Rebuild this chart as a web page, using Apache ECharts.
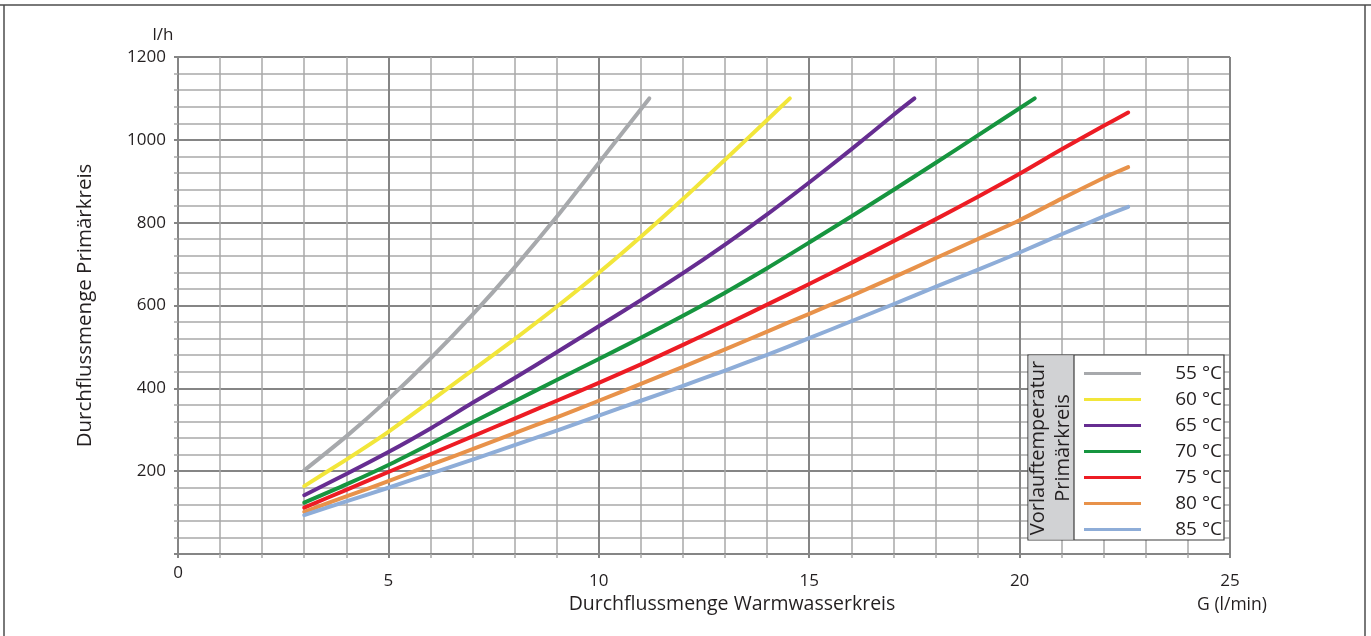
<!DOCTYPE html>
<html>
<head>
<meta charset="utf-8">
<script src="https://cdn.jsdelivr.net/npm/echarts@6/dist/echarts.min.js"></script>
<style>
  html, body { margin: 0; padding: 0; background: #ffffff; }
  #chart { width: 1371px; height: 636px; }
</style>
</head>
<body>
<div id="chart"></div>
<script>
// Primary-circuit flow (l/h) over hot-water flow G (l/min), one curve per supply temperature
const seriesNames = ['55 °C', '60 °C', '65 °C', '70 °C', '75 °C', '80 °C', '85 °C'];
const seriesColors = ['#a7a9ac', '#f2e63a', '#662d91', '#16953f', '#ed1c24', '#e8924a', '#8eadd8'];

const t55 = [[3,202],[4,284],[5,374],[6,472],[7,578],[8,692],[9,814],[10,944],[11.2,1100]];
const t60 = [[3,164],[4,228],[5,295],[6,369],[7,444],[8,519],[9,597],[10,679],[11,766],[12,857],[13,952],[14,1048],[14.54,1100]];
const t65 = [[3,142],[4,193],[5,246],[6,303],[7,365],[8,425],[9,487],[10,550],[11,613],[12,678],[13,747],[14,820],[15,897],[16,977],[17,1060],[17.5,1100]];
const t70 = [[3,124],[4,168],[5,215],[6,266],[7,318],[8,369],[9,420],[10,471],[11,522],[12,575],[13,631],[14,690],[15,752],[16,815],[17,879],[18,944],[19,1010],[20.36,1100]];
const t75 = [[3,112],[4,155],[5,198],[6,241],[7,284],[8,327],[9,370],[10,413],[11,458],[12,505],[13,553],[14,602],[15,652],[16,703],[17,755],[18,808],[19,862],[20,918],[21,977],[22,1034],[22.58,1066]];
const t80 = [[3,102],[4,139],[5,176],[6,215],[7,253],[8,292],[9,330],[10,370],[11,411],[12,452],[13,494],[14,537],[15,580],[16,623],[17,668],[18,714],[19,760],[20,806],[21,858],[22,908],[22.58,934]];
const t85 = [[3,94],[4,127],[5,160],[6,194],[7,228],[8,263],[9,298],[10,334],[11,370],[12,406],[13,443],[14,481],[15,521],[16,562],[17,603],[18,645],[19,686],[20,728],[21,772],[22,815],[22.58,838]];
const curves = [t55, t60, t65, t70, t75, t80, t85];

const FONT = '"Open Sans", "Noto Sans", sans-serif';
const TEXT = '#231f20';
const MAJOR = '#858585';
const MINOR = '#a9a9a9';

const chart = echarts.init(document.getElementById('chart'), null, { renderer: 'canvas' });

const series = curves.map((pts, i) => ({
  name: seriesNames[i],
  type: 'line',
  data: pts,
  showSymbol: false,
  smooth: 0.25,
  color: seriesColors[i],
  lineStyle: { width: 4, color: seriesColors[i], cap: 'round', join: 'round' },
  emphasis: { disabled: true },
  z: 3
}));

chart.setOption({
  animation: false,
  backgroundColor: '#ffffff',
  textStyle: { fontFamily: FONT, color: TEXT },
  grid: { left: 178, right: 141, top: 57, bottom: 82, containLabel: false },
  xAxis: {
    type: 'value',
    min: 0, max: 25, interval: 5,
    name: 'Durchflussmenge Warmwasserkreis',
    nameLocation: 'middle',
    nameGap: 40,
    nameTextStyle: { fontSize: 19.5, color: TEXT, fontFamily: FONT, padding: [0, 0, 0, 56] },
    axisLine: { show: true, lineStyle: { color: MAJOR, width: 2 } },
    axisTick: { show: true, length: 4, lineStyle: { color: MAJOR, width: 2 } },
    minorTick: { show: true, splitNumber: 5, length: 4, lineStyle: { color: MINOR, width: 1.5 } },
    axisLabel: {
      fontSize: 17, color: TEXT, fontFamily: FONT, margin: 11,
      formatter: v => (v === 0 ? '{z|0}' : '{n|' + v + '}'),
      rich: {
        z: { fontSize: 17, fontFamily: FONT, color: TEXT },
        n: { fontSize: 17, fontFamily: FONT, color: TEXT, padding: [8, 0, 0, 0] }
      }
    },
    splitLine: { show: true, lineStyle: { color: MAJOR, width: 2 } },
    minorSplitLine: { show: true, lineStyle: { color: MINOR, width: 1.5 } }
  },
  yAxis: {
    type: 'value',
    min: 0, max: 1200, interval: 200,
    name: 'Durchflussmenge Primärkreis',
    nameLocation: 'middle',
    nameRotate: 90,
    nameGap: 82,
    nameTextStyle: { fontSize: 20.5, color: TEXT, fontFamily: FONT },
    axisLine: { show: true, lineStyle: { color: MAJOR, width: 2 } },
    axisTick: { show: true, length: 4, lineStyle: { color: MAJOR, width: 2 } },
    minorTick: { show: true, splitNumber: 5, length: 4, lineStyle: { color: MINOR, width: 1.5 } },
    axisLabel: {
      fontSize: 17, color: TEXT, fontFamily: FONT, margin: 12,
      formatter: v => (v === 0 ? '' : String(v))
    },
    splitLine: { show: true, lineStyle: { color: MAJOR, width: 2 } },
    minorSplitLine: { show: true, lineStyle: { color: MINOR, width: 1.5 } }
  },
  legend: {
    orient: 'vertical',
    left: 1084,
    top: 364,
    padding: 0,
    itemGap: 7,
    itemWidth: 57,
    itemHeight: 3,
    icon: 'rect',
    selectedMode: false,
    z: 60,
    data: seriesNames,
    formatter: '{t|{name}}',
    textStyle: {
      fontFamily: FONT,
      color: TEXT,
      rich: { t: { width: 76, align: 'right', fontSize: 19, lineHeight: 20, fontFamily: FONT, color: TEXT } }
    }
  },
  graphic: [
    // page frame
    { type: 'line', z: 50, shape: { x1: 0, y1: 5, x2: 1371, y2: 5 }, style: { stroke: '#4d4d4d', lineWidth: 1.5 } },
    { type: 'line', z: 50, shape: { x1: 4, y1: 5, x2: 4, y2: 636 }, style: { stroke: '#4d4d4d', lineWidth: 1.5 } },
    { type: 'line', z: 50, shape: { x1: 1365, y1: 5, x2: 1365, y2: 636 }, style: { stroke: '#4d4d4d', lineWidth: 1.5 } },
    // legend box with its side caption
    { type: 'rect', z: 50, shape: { x: 1028, y: 355, width: 196, height: 185 }, style: { fill: '#ffffff', stroke: '#3c3c3c', lineWidth: 1.2 } },
    { type: 'rect', z: 51, shape: { x: 1028.6, y: 355.6, width: 45.4, height: 183.8 }, style: { fill: '#d1d2d4' } },
    { type: 'line', z: 52, shape: { x1: 1074, y1: 355, x2: 1074, y2: 540 }, style: { stroke: '#3c3c3c', lineWidth: 1.2 } },
    {
      type: 'text', z: 53, x: 1051, y: 448, rotation: Math.PI / 2,
      style: { text: 'Vorlauftemperatur\nPrimärkreis', fill: TEXT, font: '20px ' + FONT, align: 'center', verticalAlign: 'middle', lineHeight: 25 }
    },
    // unit captions
    { type: 'text', z: 50, x: 163, y: 35, style: { text: 'l/h', fill: TEXT, font: '17px ' + FONT, align: 'center', verticalAlign: 'middle' } },
    { type: 'text', z: 50, x: 1232, y: 605, style: { text: 'G (l/min)', fill: TEXT, font: '17.5px ' + FONT, align: 'center', verticalAlign: 'middle' } }
  ],
  series: series
});
</script>
</body>
</html>
